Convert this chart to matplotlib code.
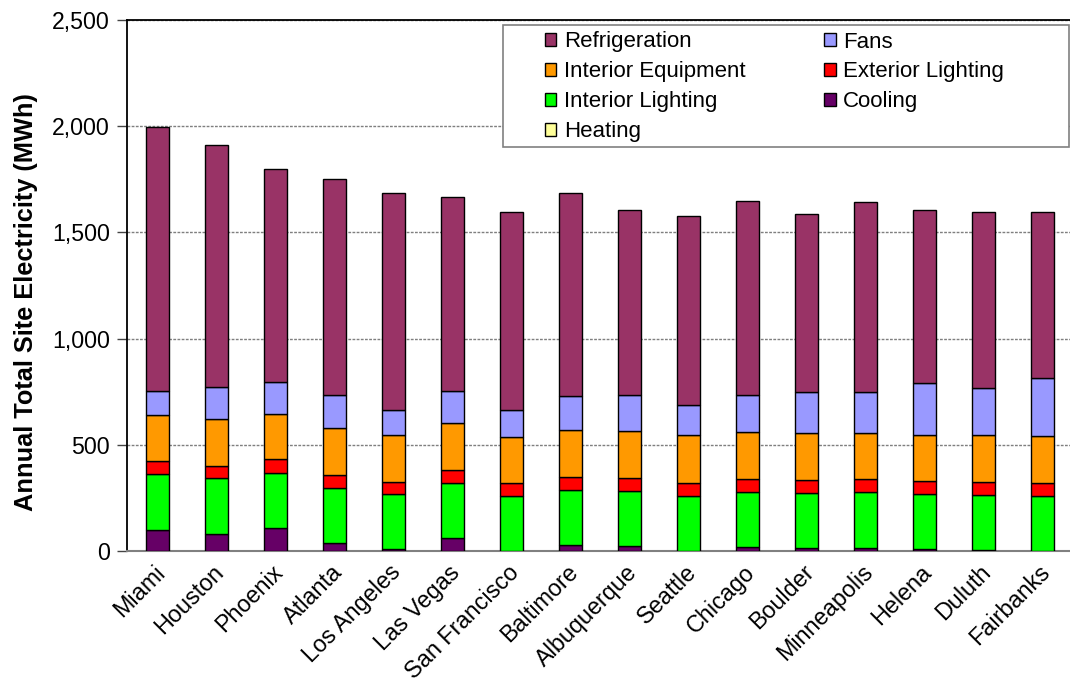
import matplotlib
matplotlib.use("Agg")
import matplotlib.pyplot as plt
import matplotlib.transforms as mtransforms
from matplotlib.patches import Patch, Rectangle
import numpy as np

plt.rcParams['font.family'] = ['Liberation Sans', 'DejaVu Sans']

cities = ["Miami", "Houston", "Phoenix", "Atlanta", "Los Angeles", "Las Vegas",
          "San Francisco", "Baltimore", "Albuquerque", "Seattle", "Chicago",
          "Boulder", "Minneapolis", "Helena", "Duluth", "Fairbanks"]

# Annual site electricity by end use (MWh)
heating = [0, 0, 0, 0, 0, 0, 0, 0, 0, 0, 0, 0, 0, 0, 0, 0]
cooling = [101, 79, 106, 39, 8, 60, 0, 27, 22, 0, 19, 13, 16, 9, 6, 2]
interior_lighting = [263, 263, 263, 259, 260, 260, 260, 262, 259, 260, 260, 260, 260, 259, 259, 258]
exterior_lighting = [59, 59, 62, 58, 58, 60, 59, 61, 61, 60, 60, 60, 62, 60, 60, 60]
interior_equipment = [219, 219, 216, 223, 220, 223, 220, 219, 221, 224, 221, 222, 217, 219, 222, 223]
fans = [109, 150, 148, 154, 120, 151, 127, 163, 172, 142, 175, 193, 193, 245, 220, 271]
refrigeration = [1243, 1140, 1003, 1018, 1020, 913, 930, 954, 870, 891, 913, 840, 895, 813, 829, 782]

series = [
    ("Heating", heating, "#FFFF99"),
    ("Cooling", cooling, "#660066"),
    ("Interior Lighting", interior_lighting, "#00FF00"),
    ("Exterior Lighting", exterior_lighting, "#FF0000"),
    ("Interior Equipment", interior_equipment, "#FF9900"),
    ("Fans", fans, "#9999FF"),
    ("Refrigeration", refrigeration, "#993366"),
]

W, H = 1070, 681
fig = plt.figure(figsize=(W / 100, H / 100), dpi=100)
ax = fig.add_axes([127 / W, 1 - 551 / H, (1070 - 127) / W, (551 - 20) / H])

x = np.arange(len(cities))
bottom = np.zeros(len(cities))
handles = {}
for name, vals, color in series:
    vals = np.asarray(vals, dtype=float)
    ax.bar(x, vals, width=0.39, bottom=bottom, color=color,
           edgecolor="black", linewidth=1.0, zorder=3)
    handles[name] = Patch(facecolor=color, edgecolor="black", linewidth=1.0)
    bottom += vals

ax.set_xlim(-0.517, 15.47)
ax.set_ylim(0, 2500)
ax.set_yticks(np.arange(0, 2501, 500))
ax.set_yticklabels([f"{v:,}" for v in range(0, 2501, 500)], fontsize=16.7)
ax.yaxis.grid(True, color="#7f7f7f", linestyle=(0, (2, 1)), linewidth=1.0, zorder=0)
ax.tick_params(axis="y", direction="out", length=7, width=1, pad=5.5, color="#444444")

ax.set_xticks(x)
ax.set_xticklabels(cities, fontsize=16.8, rotation=45, ha="right", va="top",
                   rotation_mode="anchor")
ax.tick_params(axis="x", length=0, pad=7)
shift = mtransforms.ScaledTranslation(-4 / 100, 0, fig.dpi_scale_trans)
for lbl in ax.get_xticklabels():
    lbl.set_transform(lbl.get_transform() + shift)

ax.set_ylabel("Annual Total Site Electricity (MWh)", fontsize=18.3,
              fontweight="bold")
ax.yaxis.set_label_coords((38 - 127) / 943, 0.5 - 17 / 531)

ax.spines["right"].set_visible(False)
ax.spines["top"].set_color("black")
ax.spines["top"].set_linewidth(1.3)
ax.spines["left"].set_color("black")
ax.spines["left"].set_linewidth(1.3)
ax.spines["bottom"].set_color("#808080")
ax.spines["bottom"].set_linewidth(1.5)

# Legend frame and entries
fig.patches.append(Rectangle((503 / W, 1 - 147 / H), (1069 - 503) / W, (147 - 25) / H,
                             transform=fig.transFigure, facecolor="white",
                             edgecolor="#808080", linewidth=1.2, zorder=5))
order = ["Refrigeration", "Interior Equipment", "Interior Lighting", "Heating",
         "Fans", "Exterior Lighting", "Cooling"]
leg = fig.legend([handles[n] for n in order], order, ncol=2, loc="upper left",
                 bbox_to_anchor=(545 / W, 1 - 31.5 / H), frameon=False,
                 fontsize=16, handlelength=0.5, handleheight=0.5,
                 handletextpad=0.35, columnspacing=3.55, labelspacing=0.4,
                 borderpad=0, borderaxespad=0)
leg.set_zorder(6)

fig.savefig("out.png", dpi=100)
